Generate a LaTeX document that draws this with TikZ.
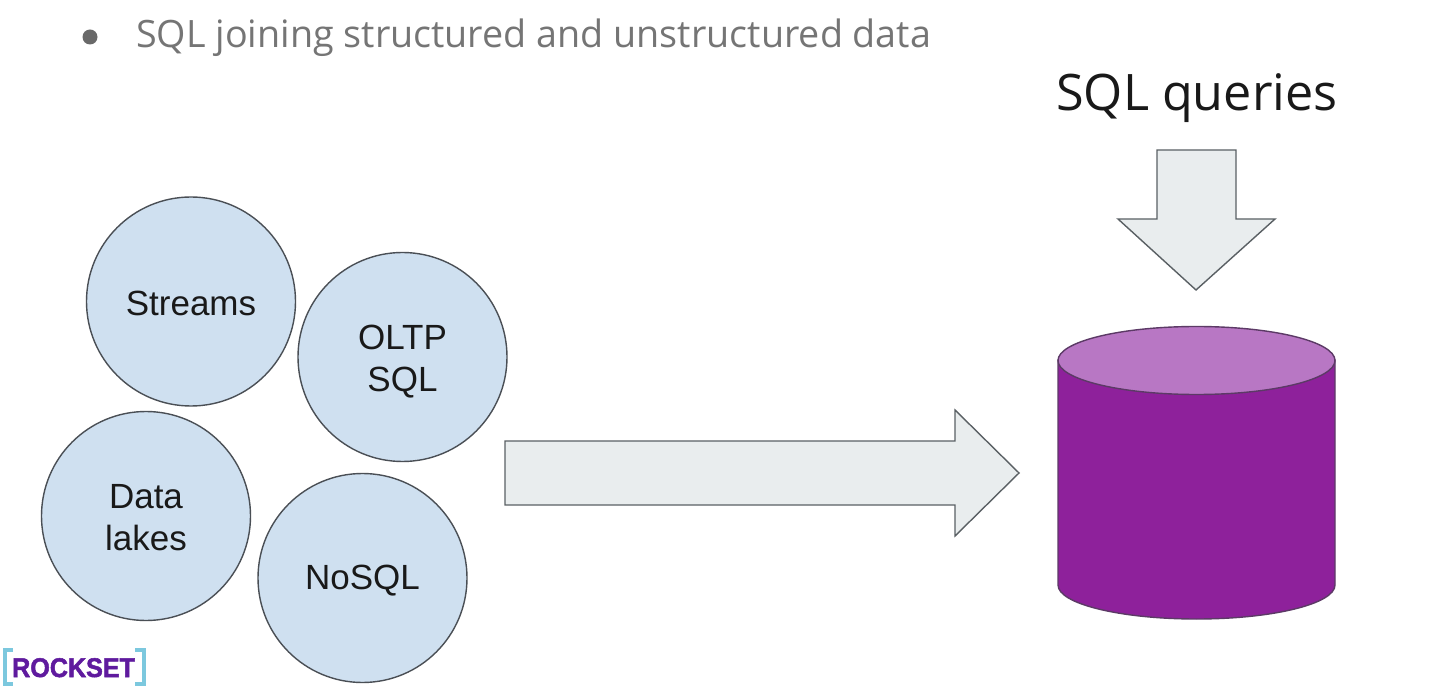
\documentclass[tikz,border=0pt]{standalone}
\usepackage{fontspec}
\setmainfont{Liberation Sans}
\newfontfamily\plexlike{Open Sans}
\usetikzlibrary{shapes.geometric}
\definecolor{circfill}{HTML}{CFE0F0}
\definecolor{circline}{HTML}{4A4F55}
\definecolor{arrowfill}{HTML}{E9EDEE}
\definecolor{arrowline}{HTML}{5A6064}
\definecolor{cylbody}{HTML}{8E219B}
\definecolor{cyltop}{HTML}{B877C4}
\definecolor{cylline}{HTML}{5C3A66}
\definecolor{bullettext}{HTML}{757575}
\definecolor{logotext}{HTML}{5F1A9E}
\definecolor{logocyan}{HTML}{7CC8DE}
\newcommand{\dropby}[2]{\raisebox{-#1}[\height][\depth]{#2}}
\tikzset{
  source/.style={circle,draw=circline,fill=circfill,line width=1.4pt,minimum size=209pt,inner sep=0pt,align=center,font=\fontsize{35}{42}\selectfont,text=black!90},
  blockarrow/.style={draw=arrowline,fill=arrowfill,line width=1.4pt,line join=miter},
  cylpart/.style={draw=cylline,line width=1.4pt},
  logobracket/.style={draw=logocyan,line width=3.4pt,line join=miter}
}
\begin{document}
\begin{tikzpicture}[x=1pt,y=-1pt]
\useasboundingbox (0,0) rectangle (1454,692);
\fill[white] (0,0) rectangle (1454,692);
% bullet line
\fill[bullettext!90!black] (90,37) circle (7.5pt);
\node[anchor=base west,inner sep=0pt,text=bullettext,font=\plexlike\fontsize{37.7}{44}\selectfont] (title) at (136,48) {SQL joining structured and unstructured data};
% query label
\node[anchor=base west,inner sep=0pt,text=black!90,font=\plexlike\fontsize{50.3}{58}\selectfont] (queries) at (1056,111) {SQL queries};
% down arrow
\draw[blockarrow] (1157,150) -- (1236,150) -- (1236,219) -- (1275,219) -- (1196,290) -- (1118,219) -- (1157,219) -- cycle;
% sources
\node[source] (streams) at (191,301.5) {\dropby{2pt}{Streams}};
\node[source] (oltp) at (402.5,357) {\dropby{5pt}{OLTP}\\\dropby{5pt}{SQL}};
\node[source] (lakes) at (146,516) {\dropby{1.5pt}{Data}\\\dropby{1.5pt}{lakes}};
\node[source] (nosql) at (362.5,578) {\dropby{3pt}{NoSQL}};
% right arrow
\draw[blockarrow] (505,441) -- (955,441) -- (955,410) -- (1019,473) -- (955,536) -- (955,505) -- (505,505) -- cycle;
% cylinder
\draw[cylpart,fill=cylbody] (1058,360) -- (1058,585) arc[start angle=180,end angle=0,x radius=138.5,y radius=34] -- (1335,360) -- cycle;
\draw[cylpart,fill=cyltop] (1196.5,360.5) ellipse[x radius=138.5,y radius=34];
% logo
\draw[logobracket] (13,650) -- (5,650) -- (5,684) -- (13,684);
\draw[logobracket] (135,650) -- (144,650) -- (144,684) -- (135,684);
\node[anchor=base west,inner sep=0pt,text=logotext,font=\bfseries\fontsize{27}{30}\selectfont,xscale=0.93] (logo) at (12,677) {\special{pdf:literal direct 2 Tr 0.5 w}ROCKSET\special{pdf:literal direct 0 Tr 0 w}};
\end{tikzpicture}
\end{document}
